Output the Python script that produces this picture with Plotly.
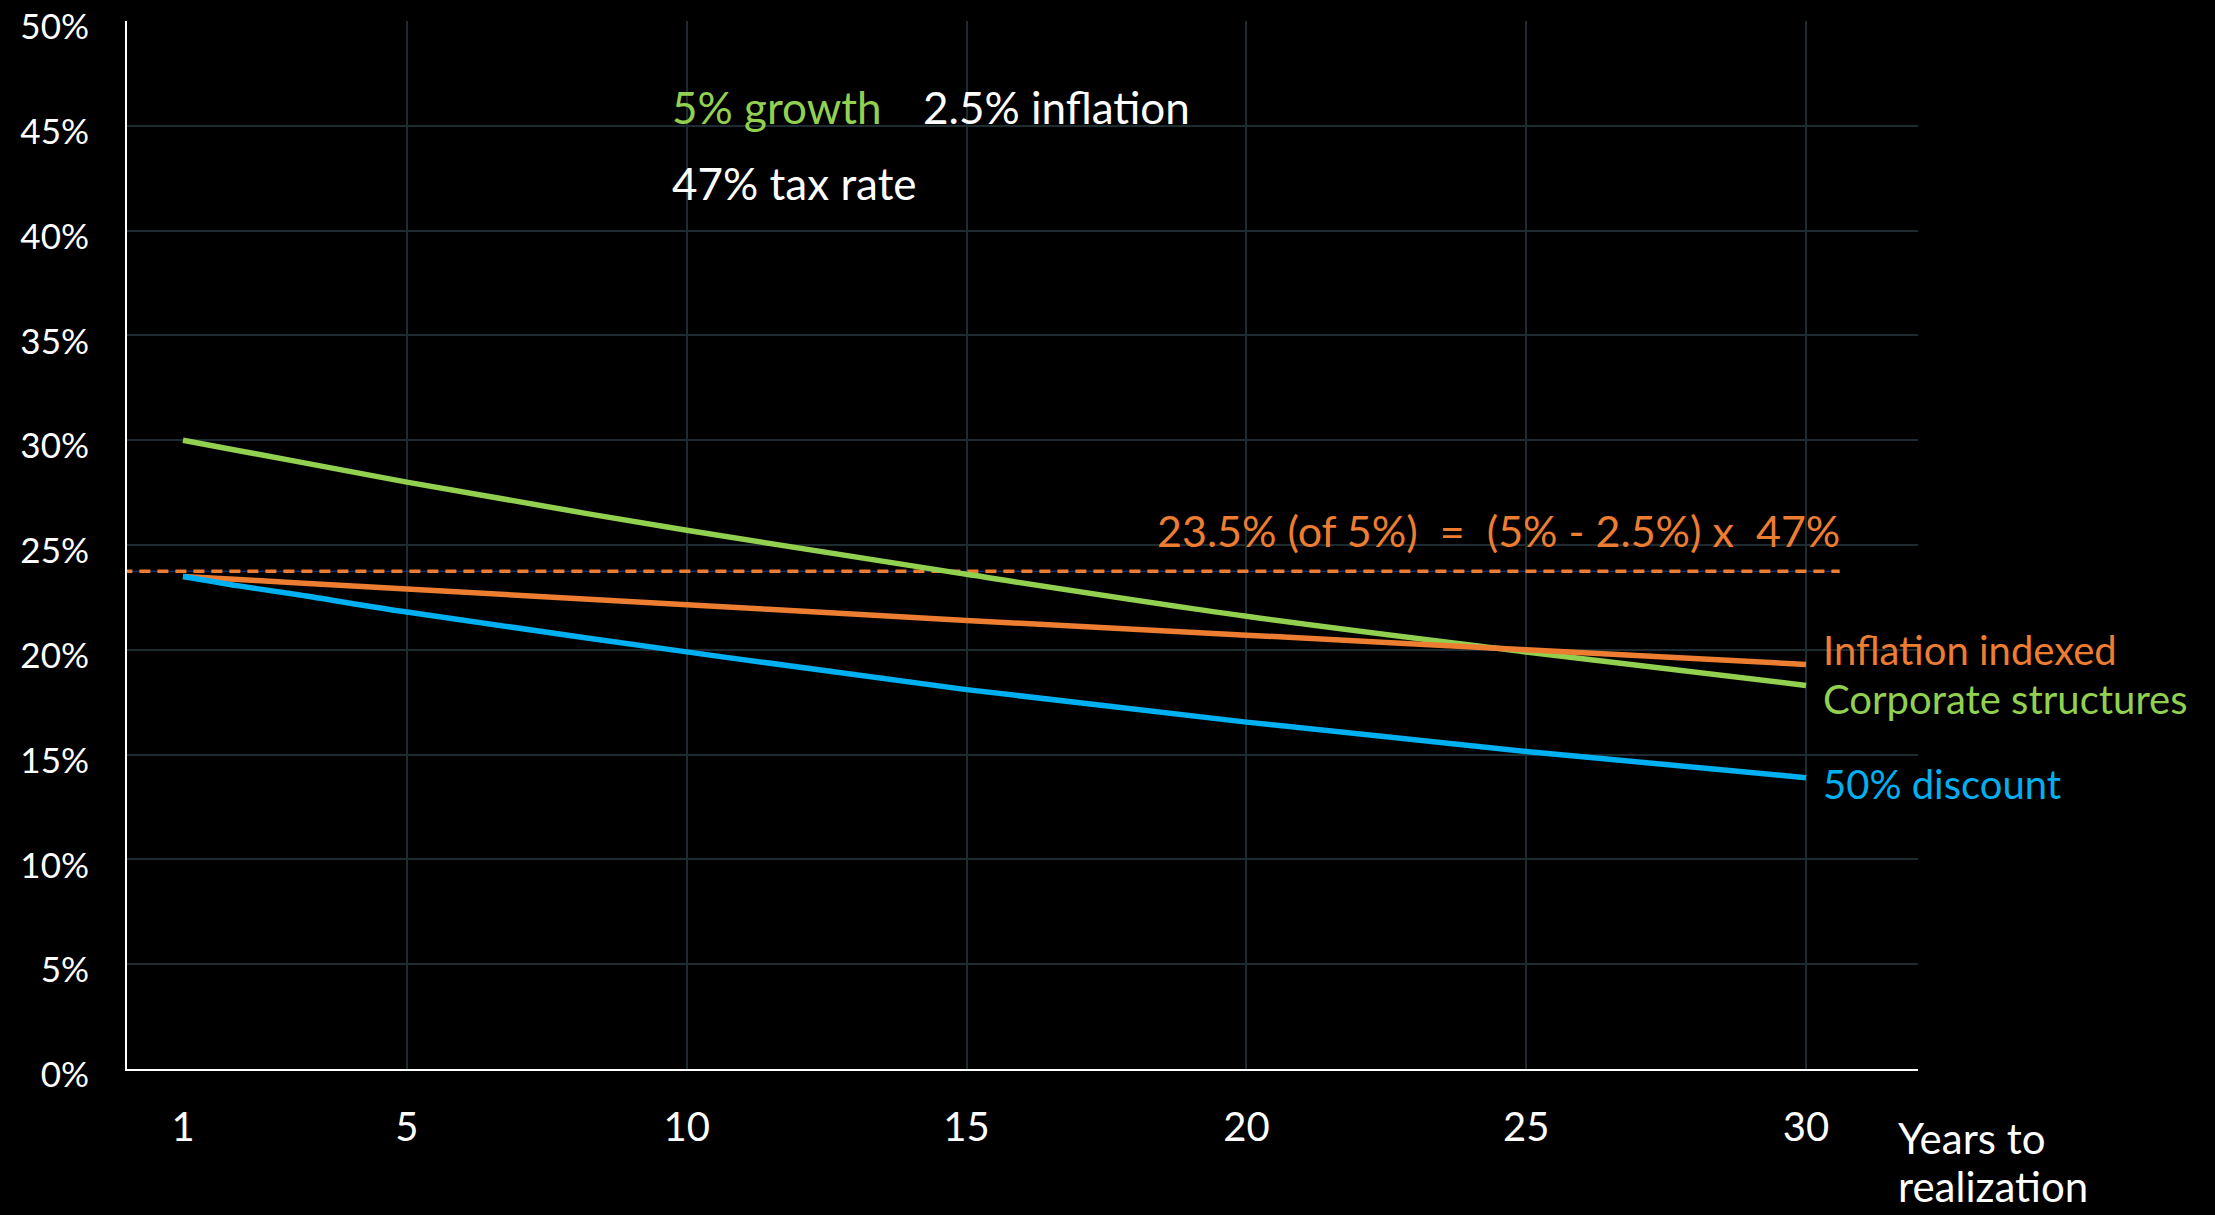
import plotly.graph_objects as go

# ---- data ----
years = [1, 2, 3, 5, 10, 15, 20, 25, 30]
corporate = [30.0, 29.5, 29.0, 28.0, 25.7, 23.6, 21.6, 19.9, 18.3]
inflation_indexed = [23.5, 23.35, 23.2, 22.9, 22.15, 21.4, 20.7, 20.0, 19.3]
discount_50 = [23.5, 23.05, 22.65, 21.8, 19.9, 18.1, 16.55, 15.15, 13.9]
ref_level = 23.75
ref_x = [-0.1, 30.6]

x_ticks = [1, 5, 10, 15, 20, 25, 30]
x_grid = [5, 10, 15, 20, 25, 30]
y_ticks = [0, 5, 10, 15, 20, 25, 30, 35, 40, 45, 50]
y_labels = [f"{v}%" for v in y_ticks]

GREEN = "#92D050"
ORANGE = "#ED7D31"
BLUE = "#00B0F0"
GRID = "#1c2c30"
FONT = "Lato"

fig = go.Figure()

# reference dashed line (thin blue under orange dashes)
fig.add_trace(go.Scatter(x=ref_x, y=[ref_level, ref_level], mode="lines",
                         line=dict(color="#1f3f8f", width=1), hoverinfo="skip",
                         showlegend=False))
fig.add_trace(go.Scatter(x=ref_x, y=[ref_level, ref_level], mode="lines",
                         line=dict(color=ORANGE, width=3.5, dash="11px,7px"),
                         hoverinfo="skip", showlegend=False))

fig.add_trace(go.Scatter(x=years, y=corporate, mode="lines", name="Corporate structures",
                         line=dict(color=GREEN, width=5.5, shape="spline")))
fig.add_trace(go.Scatter(x=years, y=inflation_indexed, mode="lines", name="Inflation indexed",
                         line=dict(color=ORANGE, width=5.5, shape="spline")))
fig.add_trace(go.Scatter(x=years, y=discount_50, mode="lines", name="50% discount",
                         line=dict(color=BLUE, width=5.5, shape="spline")))

fs = 40
ann = [
    dict(x=9.71, y=45.9, text="5% growth", color=GREEN, anchor="left", size=44, ref="y"),
    dict(x=14.18, y=45.9, text="2.5% inflation", color="white", anchor="left", size=44, ref="y"),
    dict(x=9.71, y=42.25, text="47% tax rate", color="white", anchor="left", size=44, ref="y"),
    dict(x=30.65, y=25.67, text="23.5% (of 5%)\u00a0\u00a0=\u00a0\u00a0(5% - 2.5%) x\u00a0\u00a047%",
         color=ORANGE, anchor="right", size=43, ref="y"),
    dict(x=30.27, y=20.0, text="Inflation indexed", color=ORANGE, anchor="left", size=fs, ref="y"),
    dict(x=30.27, y=17.65, text="Corporate structures", color=GREEN, anchor="left", size=fs, ref="y"),
    dict(x=30.27, y=13.6, text="50% discount", color=BLUE, anchor="left", size=fs, ref="y"),
    dict(x=31.6, y=-0.066, text="Years to", color="white", anchor="left", size=42, ref="paper"),
    dict(x=31.6, y=-0.1115, text="realization", color="white", anchor="left", size=42, ref="paper"),
]
for a in ann:
    fig.add_annotation(x=a["x"], y=a["y"], xref="x", yref=a["ref"], text=a["text"],
                       showarrow=False, xanchor=a["anchor"], yanchor="middle",
                       font=dict(family=FONT, size=a["size"], color=a["color"]))

fig.update_layout(
    width=2215, height=1215,
    margin=dict(l=127, r=297, t=21, b=146),
    paper_bgcolor="black", plot_bgcolor="black",
    showlegend=False,
    font=dict(family=FONT, size=fs, color="white"),
)
fig.update_xaxes(range=[0, 32], tickvals=x_ticks, showgrid=False,
                 minor=dict(tickvals=x_grid, showgrid=True, gridcolor=GRID, gridwidth=2, ticks=""),
                 showline=True, linecolor="white", linewidth=2, zeroline=False,
                 ticks="", ticklabelstandoff=22, automargin=False,
                 ticklabeloverflow="allow",
                 tickfont=dict(family=FONT, size=fs, color="white"))
fig.update_yaxes(range=[0, 50], tickvals=y_ticks, ticktext=y_labels,
                 showgrid=True, gridcolor=GRID, gridwidth=2,
                 showline=True, linecolor="white", linewidth=2, zeroline=False,
                 ticks="", ticklabelstandoff=29, ticklabelshift=6, automargin=False,
                 ticklabeloverflow="allow",
                 tickfont=dict(family=FONT, size=35, color="white"))

fig.write_html(
    "out.html",
    config={"displayModeBar": False},
    post_script="document.body.style.margin='0';document.body.style.background='black';"
                "document.documentElement.style.background='black';",
)
